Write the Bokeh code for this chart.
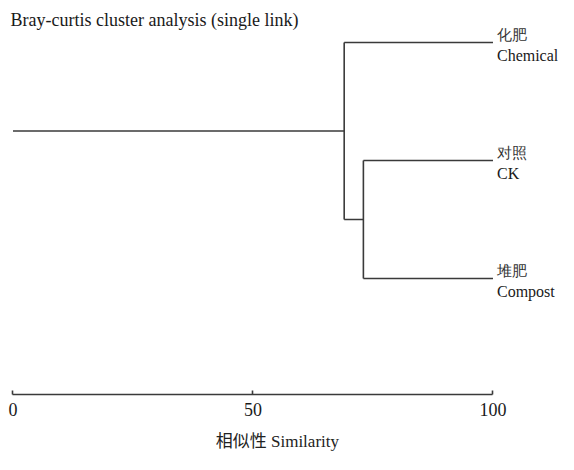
from bokeh.plotting import figure
from bokeh.models import Range1d, FixedTicker, Label, LabelSet, ColumnDataSource
from bokeh.embed import file_html
from bokeh.resources import INLINE

# ---- data ----
leaf_cn = ["化肥", "对照", "堆肥"]
leaf_en = ["Chemical", "CK", "Compost"]
leaf_order = [2, 1, 0]          # vertical slot of each leaf (top to bottom)
# merges: (child a, child b, similarity); children are leaf indices or "m<k>"
merges = [(1, 2, 73.0), (0, "m0", 69.0)]
ticks = [0, 50, 100]
title_text = "Bray-curtis cluster analysis (single link)"
xlabel_text = "相似性  Similarity"

SERIF = "Liberation Serif"
CJK = "Noto Sans CJK SC"
LINE = "#3a3a3a"

p = figure(width=558, height=454, output_backend="svg", toolbar_location=None,
           x_range=Range1d(-2.604, 113.65), y_range=Range1d(-0.983, 2.356),
           y_axis_location=None, min_border_left=0, min_border_right=0,
           min_border_top=0, min_border_bottom=60)
p.outline_line_color = None
p.grid.visible = False
p.background_fill_color = "white"

# ---- build dendrogram segments ----
pos = {}   # node -> (x, y)
for i, y in enumerate(leaf_order):
    pos[i] = (100.0, float(y))
x0s, y0s, x1s, y1s = [], [], [], []
for k, (a, b, s) in enumerate(merges):
    xa, ya = pos[a]
    xb, yb = pos[b]
    x0s += [xa, xb, s]
    y0s += [ya, yb, ya]
    x1s += [s, s, s]
    y1s += [ya, yb, yb]
    pos["m%d" % k] = (s, (ya + yb) / 2.0)
rx, ry = pos["m%d" % (len(merges) - 1)]
x0s.append(0.0); y0s.append(ry); x1s.append(rx); y1s.append(ry)

p.segment(x0=x0s, y0=y0s, x1=x1s, y1=y1s, line_color=LINE, line_width=1.6)

# ---- leaf labels ----
px = 1 / 118.0
lx = 100.83
src_cn = ColumnDataSource(dict(x=[lx] * 3, y=[v + 8 * px for v in leaf_order], t=leaf_cn))
src_en = ColumnDataSource(dict(x=[lx] * 3, y=[v - 12.5 * px for v in leaf_order], t=leaf_en))
p.add_layout(LabelSet(x="x", y="y", text="t", source=src_cn, text_font=CJK,
                      text_font_size="15px", text_baseline="middle", text_color="#333333"))
p.add_layout(LabelSet(x="x", y="y", text="t", source=src_en, text_font=SERIF,
                      text_font_size="16px", text_baseline="middle", text_color="#1a1a1a"))

# ---- title ----
p.add_layout(Label(x=-0.52, y=2.191, text=title_text, text_font=SERIF,
                   text_font_size="18px", text_baseline="middle", text_color="#1a1a1a"))

# ---- x axis ----
ax = p.xaxis[0]
ax.ticker = FixedTicker(ticks=ticks)
ax.bounds = (0, 100)
ax.axis_line_color = LINE
ax.axis_line_width = 1.6
ax.major_tick_line_color = LINE
ax.major_tick_line_width = 1.6
ax.major_tick_in = 4
ax.major_tick_out = 0
ax.minor_tick_line_color = None
ax.major_label_text_font = SERIF
ax.major_label_text_font_size = "18px"
ax.major_label_text_color = "#1a1a1a"
ax.major_label_standoff = 8
ax.axis_label = xlabel_text
ax.axis_label_text_font = "'Liberation Serif', 'Noto Sans CJK SC'"
ax.axis_label_text_font_style = "normal"
ax.axis_label_text_font_size = "17px"
ax.axis_label_text_color = "#222222"
ax.axis_label_standoff = 13

open("out.html", "w").write(file_html(p, INLINE))
